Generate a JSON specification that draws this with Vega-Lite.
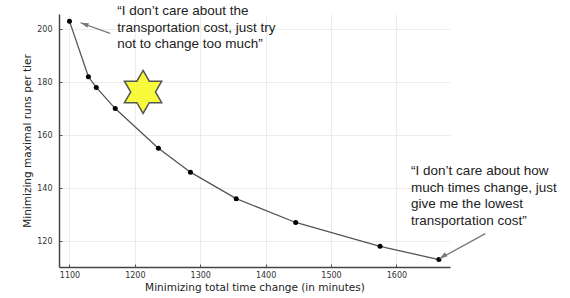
{
  "$schema": "https://vega.github.io/schema/vega-lite/v6.json",
  "width": 391,
  "height": 253,
  "autosize": {"type": "none"},
  "padding": {"left": 59, "top": 14, "right": 120, "bottom": 31},
  "background": "white",
  "config": {"view": {"stroke": null}},
  "datasets": {
    "pts": [
      {"time": 1100, "runs": 203},
      {"time": 1129, "runs": 182},
      {"time": 1141, "runs": 178},
      {"time": 1170, "runs": 170},
      {"time": 1236, "runs": 155},
      {"time": 1285, "runs": 146},
      {"time": 1355, "runs": 136},
      {"time": 1446, "runs": 127},
      {"time": 1575, "runs": 118},
      {"time": 1665, "runs": 113}
    ],
    "arrows": [
      {"x1": 1162, "y1": 198.4, "x2": 1117, "y2": 202.4, "angle": 289.5},
      {"x1": 1736, "y1": 122.8, "x2": 1666, "y2": 113.3, "angle": 235.7}
    ],
    "notes": [
      {"x": 1173, "y": 205.3, "label": "“I don’t care about the\ntransportation cost, just try\nnot to change too much”"},
      {"x": 1622.5, "y": 144.8, "label": "“I don’t care about how\nmuch times change, just\ngive me the lowest\ntransportation cost”"}
    ],
    "star": [{"time": 1212.6, "runs": 176.3}]
  },
  "layer": [
    {
      "data": {"name": "pts"},
      "mark": {"type": "line", "color": "#555555", "strokeWidth": 1.3},
      "encoding": {
        "x": {
          "field": "time", "type": "quantitative",
          "scale": {"domain": [1084, 1682], "nice": false, "zero": false},
          "axis": {
            "title": "Minimizing total time change (in minutes)",
            "values": [1100, 1200, 1300, 1400, 1500, 1600], "format": "d",
            "grid": true, "gridColor": "#ececec", "gridWidth": 1,
            "domainColor": "#444444", "domainWidth": 1.5,
            "ticks": true, "tickSize": -3, "tickColor": "#555555", "labelPadding": 7,
            "labelFont": "DejaVu Sans", "labelFontSize": 8, "labelColor": "#333333",
            "titleFont": "DejaVu Sans", "titleFontSize": 10.5, "titleFontWeight": "normal",
            "titleColor": "#222222", "titlePadding": 3
          }
        },
        "y": {
          "field": "runs", "type": "quantitative",
          "scale": {"domain": [110.2, 205.7], "nice": false, "zero": false},
          "axis": {
            "title": "Minimizing maximal runs per tier",
            "values": [120, 140, 160, 180, 200],
            "grid": true, "gridColor": "#ececec", "gridWidth": 1,
            "domainColor": "#444444", "domainWidth": 1.5,
            "ticks": true, "tickSize": -3, "tickColor": "#555555", "labelPadding": 10,
            "labelFont": "DejaVu Sans", "labelFontSize": 8, "labelColor": "#333333",
            "titleFont": "DejaVu Sans", "titleFontSize": 10.5, "titleFontWeight": "normal",
            "titleColor": "#222222", "titlePadding": 4
          }
        }
      }
    },
    {
      "data": {"name": "pts"},
      "mark": {"type": "point", "filled": true, "color": "#000000", "size": 25, "opacity": 1},
      "encoding": {
        "x": {"field": "time", "type": "quantitative"},
        "y": {"field": "runs", "type": "quantitative"}
      }
    },
    {
      "data": {"name": "star"},
      "mark": {
        "type": "point", "filled": true, "fill": "#f7f93a", "stroke": "#555555", "strokeWidth": 1.5,
        "opacity": 1, "fillOpacity": 1, "strokeOpacity": 1,
        "shape": "M0,-1L0.289,-0.5L0.866,-0.5L0.577,0L0.866,0.5L0.289,0.5L0,1L-0.289,0.5L-0.866,0.5L-0.577,0L-0.866,-0.5L-0.289,-0.5Z",
        "size": 1849
      },
      "encoding": {
        "x": {"field": "time", "type": "quantitative"},
        "y": {"field": "runs", "type": "quantitative"}
      }
    },
    {
      "data": {"name": "arrows"},
      "mark": {"type": "rule", "color": "#777777", "strokeWidth": 1.3},
      "encoding": {
        "x": {"field": "x1", "type": "quantitative"},
        "y": {"field": "y1", "type": "quantitative"},
        "x2": {"field": "x2"},
        "y2": {"field": "y2"}
      }
    },
    {
      "data": {"name": "arrows"},
      "mark": {
        "type": "point", "filled": true, "color": "#777777", "opacity": 1,
        "shape": "M0,0L0.6,2L-0.6,2Z", "size": 64
      },
      "encoding": {
        "x": {"field": "x2", "type": "quantitative"},
        "y": {"field": "y2", "type": "quantitative"},
        "angle": {"field": "angle", "type": "quantitative", "scale": null}
      }
    },
    {
      "data": {"name": "notes"},
      "mark": {
        "type": "text", "align": "left", "baseline": "alphabetic",
        "font": "Liberation Sans", "fontSize": 13.5, "color": "#222222",
        "lineBreak": "\n", "lineHeight": 16.5
      },
      "encoding": {
        "x": {"field": "x", "type": "quantitative"},
        "y": {"field": "y", "type": "quantitative"},
        "text": {"field": "label"}
      }
    }
  ]
}
